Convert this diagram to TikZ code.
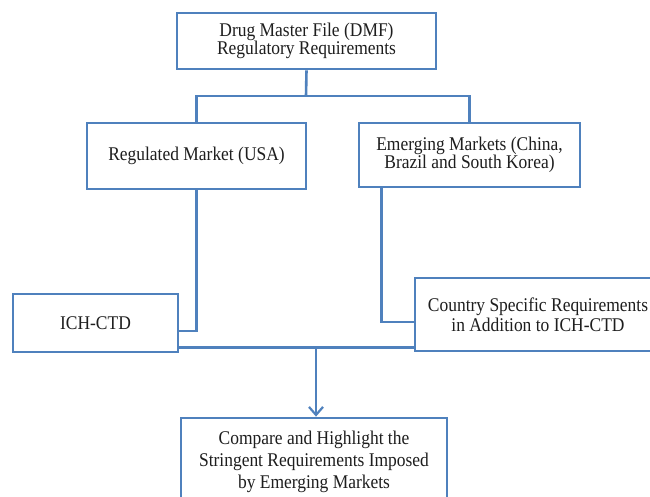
\documentclass[tikz,border=0pt]{standalone}
\usepackage{fontspec}
\setmainfont{Liberation Serif}
\newfontfamily\narrowserif[FakeStretch=0.9]{Liberation Serif}
\usetikzlibrary{arrows.meta}
\definecolor{boxblue}{RGB}{79,129,189}
\definecolor{txt}{RGB}{30,30,30}
\begin{document}
\begin{tikzpicture}[x=1pt,y=-1pt,
  box/.style={draw=boxblue,line width=2.8pt,fill=white,inner sep=0pt,align=center,text=txt,font=\narrowserif\fontsize{19.4}{18}\selectfont},
  conn/.style={draw=boxblue,line width=2.6pt},
  arr/.style={conn,-{Straight Barb[length=8pt,width=14pt,line width=2.2pt]}}]
\clip (0,0) rectangle (650,497);
\fill[white] (0,0) rectangle (650,497);
\node[box,minimum width=259pt,minimum height=56pt] (top) at (306.5,41) {Drug Master File (DMF)\\Regulatory Requirements};
\node[box,minimum width=219pt,minimum height=66pt] (reg) at (196.5,156) {Regulated Market (USA)};
\node[box,minimum width=221pt,minimum height=64pt,font=\narrowserif\fontsize{19.4}{17}\selectfont] (emg) at (469.5,155) {Emerging Markets (China,\\Brazil and South Korea)};
\node[box,minimum width=165pt,minimum height=58pt] (ich) at (95.5,323) {ICH-CTD};
\node[box,minimum width=246pt,minimum height=73pt,font=\narrowserif\fontsize{19.4}{17}\selectfont] (cty) at (538,314.5) {\raisebox{-5pt}{\shortstack{Country Specific Requirements\\[-1pt]in Addition to ICH-CTD}}};
\node[box,minimum width=266pt,minimum height=87pt,font=\narrowserif\fontsize{19.4}{22}\selectfont] (bot) at (314,461.5) {Compare and Highlight the\\Stringent Requirements Imposed\\by Emerging Markets};
\coordinate (jt) at (306,96);
\coordinate (jb) at (316,347.5);
\draw[conn] (top.south) -- (jt);
\draw[conn] (reg.north) |- (jt) -| (emg.north);
\draw[conn] (reg.south) |- ([yshift=-8pt]ich.east);
\draw[conn] ([xshift=24pt]emg.south west) |- ([yshift=-7.5pt]cty.west);
\draw[conn] (ich.east |- jb) -- (cty.west |- jb);
\draw[arr] (jb) -- (jb |- bot.north);
\end{tikzpicture}
\end{document}
